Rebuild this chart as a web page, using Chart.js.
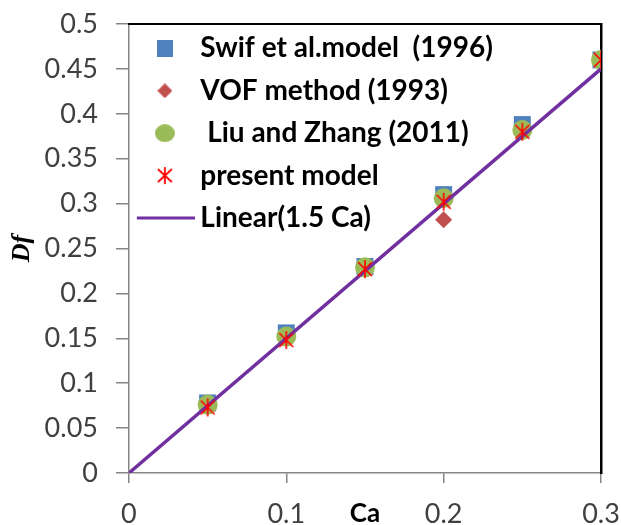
<!DOCTYPE html>
<html><head><meta charset="utf-8">
<script src="https://cdn.jsdelivr.net/npm/chart.js@4.4.1/dist/chart.umd.min.js"></script>
<style>html,body{margin:0;padding:0;background:#fff;}</style>
</head><body>
<canvas id="c" width="621" height="525" style="display:block;width:621px;height:525px"></canvas>
<script>
// ---- data ----
const caValues      = [0.05, 0.10, 0.15, 0.20, 0.25, 0.30];
const swifValues    = [0.078, 0.156, 0.230, 0.310, 0.388, 0.460];
const vofValues     = [0.075, 0.150, 0.230, 0.282, 0.380, 0.460];
const liuValues     = [0.076, 0.152, 0.229, 0.306, 0.382, 0.460];
const presentValues = [0.073, 0.148, 0.227, 0.302, 0.380, 0.460];
const linearCa      = [0, 0.3];
const linearValues  = [0, 0.45];
const seriesNames   = ['Swif et al.model  (1996)', 'VOF method (1993)', ' Liu and Zhang (2011)', 'present model', 'Linear(1.5 Ca)'];
const xTickLabels   = ['0', '0.1', '0.2', '0.3'];
const yTickLabels   = ['0', '0.05', '0.1', '0.15', '0.2', '0.25', '0.3', '0.35', '0.4', '0.45', '0.5'];

const COL_BLUE = '#4F81BD', COL_RED = '#C0504D', COL_GREEN = '#9BBB59', COL_STAR = '#FF0000', COL_LINE = '#7030A0';

function mk(w, h, draw) { const c = document.createElement('canvas'); c.width = w; c.height = h; draw(c.getContext('2d'), w, h); return c; }
function asterisk(w, h, lw) {
  return mk(w, h, (g) => {
    g.strokeStyle = COL_STAR; g.lineWidth = lw;
    g.beginPath();
    g.moveTo(w / 2, 1); g.lineTo(w / 2, h - 1);
    g.moveTo(2, 3); g.lineTo(w - 2, h - 3);
    g.moveTo(w - 2, 3); g.lineTo(2, h - 3);
    g.stroke();
  });
}
const starPoint = asterisk(18, 20, 1.6);
const legendMarkers = [
  mk(16, 17, (g, w, h) => { g.fillStyle = COL_BLUE; g.fillRect(0, 0, w, h); }),
  mk(15, 15, (g, w, h) => { g.fillStyle = COL_RED; g.beginPath(); g.moveTo(w/2, 0); g.lineTo(w, h/2); g.lineTo(w/2, h); g.lineTo(0, h/2); g.closePath(); g.fill(); }),
  mk(20, 18, (g, w, h) => { g.fillStyle = COL_GREEN; g.beginPath(); g.ellipse(w/2, h/2, w/2, h/2, 0, 0, Math.PI * 2); g.fill(); }),
  asterisk(18, 19, 1.8),
  mk(60, 4, (g, w, h) => { g.fillStyle = COL_LINE; g.fillRect(2, 0.5, 58, 3); })
];
function pts(xs, ys) { return xs.map((x, i) => ({ x: x, y: ys[i] })); }

// place the legend box inside the plot area, top-left
const legendPlace = {
  id: 'legendPlace',
  afterLayout(chart) {
    if (chart.legend) { chart.legend.top = chart.chartArea.top - 4; chart.legend.left = chart.chartArea.left; }
  }
};

new Chart(document.getElementById('c'), {
  type: 'scatter',
  data: { datasets: [
      { label: seriesNames[0], data: pts(caValues, swifValues), pointStyle: 'rect', pointRadius: 12, pointHoverRadius: 12,
        backgroundColor: COL_BLUE, borderColor: COL_BLUE, borderWidth: 0, order: 5 },
      { label: seriesNames[1], data: pts(caValues, vofValues), pointStyle: 'rectRot', pointRadius: 8.5, pointHoverRadius: 8.5,
        backgroundColor: COL_RED, borderColor: COL_RED, borderWidth: 0, order: 4 },
      { label: seriesNames[2], data: pts(caValues, liuValues), pointStyle: 'circle', pointRadius: 10, pointHoverRadius: 10,
        backgroundColor: COL_GREEN, borderColor: COL_GREEN, borderWidth: 0, order: 3 },
      { label: seriesNames[3], data: pts(caValues, presentValues), pointStyle: starPoint,
        backgroundColor: COL_STAR, borderColor: COL_STAR, order: 1 },
      { type: 'line', label: seriesNames[4], data: pts(linearCa, linearValues), borderColor: COL_LINE, backgroundColor: COL_LINE,
        borderWidth: 3.5, pointRadius: 0, fill: false, tension: 0, order: 2 }
  ]},
  options: {
    responsive: false, animation: false, devicePixelRatio: 1,
    layout: { padding: { left: 0, top: 24, right: 20, bottom: 0 } },
    plugins: {
      tooltip: { enabled: false },
      legend: {
        position: 'chartArea', align: 'start',
        labels: {
          usePointStyle: true, pointStyleWidth: 43, padding: 14.4, color: '#000',
          font: { family: 'Lato', size: 28, weight: 'bold' },
          generateLabels(chart) {
            const items = Chart.defaults.plugins.legend.labels.generateLabels(chart);
            items.sort((a, b) => a.datasetIndex - b.datasetIndex);
            items.forEach(it => { it.pointStyle = legendMarkers[it.datasetIndex]; it.fontColor = '#000'; });
            return items;
          }
        }
      }
    },
    scales: {
      x: {
        type: 'linear', position: 'bottom', min: 0, max: 0.3,
        ticks: { stepSize: 0.1, padding: 1, color: '#404040', font: { family: 'Lato', size: 27, lineHeight: '60px' },
                 maxRotation: 0, autoSkip: false, callback: (v, i) => xTickLabels[i] },
        grid: { drawOnChartArea: false, drawTicks: true, tickLength: 10, color: '#868686', lineWidth: 1.5 },
        border: { display: true, color: '#868686', width: 1.5 },
        title: { display: true, text: 'Ca', color: '#000', font: { family: 'Lato', size: 26, weight: 'bold' },
                 padding: { top: -47.2, bottom: -4 } }
      },
      y: {
        type: 'linear', position: 'left', min: 0, max: 0.5,
        ticks: { stepSize: 0.05, padding: 18, color: '#404040', font: { family: 'Lato', size: 27, lineHeight: 0.4 },
                 autoSkip: false, callback: (v, i) => yTickLabels[i] },
        grid: { drawOnChartArea: false, drawTicks: true, tickLength: 13, color: '#868686', lineWidth: 1.5 },
        border: { display: true, color: '#868686', width: 1.5 },
        title: { display: true, text: 'Df', color: '#000', font: { family: 'Liberation Serif', size: 26, weight: 'bold', style: 'italic' },
                 padding: { top: 7, bottom: -11.6 } }
      },
      x2: { type: 'linear', position: 'top', min: 0, max: 0.3, ticks: { display: false },
            grid: { drawOnChartArea: false, drawTicks: false }, border: { display: true, color: '#000', width: 2 } },
      y2: { type: 'linear', position: 'right', min: 0, max: 0.5, ticks: { display: false },
            grid: { drawOnChartArea: false, drawTicks: false }, border: { display: true, color: '#000', width: 2.5 } }
    }
  },
  plugins: [legendPlace]
});
</script>
</body></html>
